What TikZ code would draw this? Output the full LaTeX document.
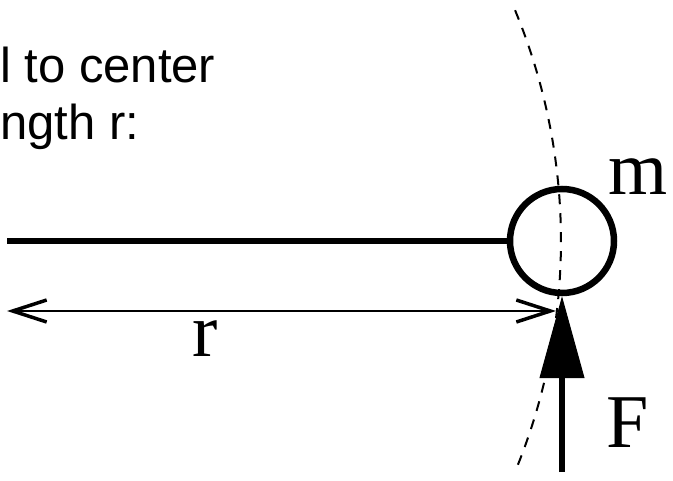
\documentclass[tikz,border=0pt]{standalone}
\usepackage{fontspec}
\setmainfont{Liberation Serif}
\newfontfamily\slidefont{Liberation Sans}
\usepackage{tikz}
\usetikzlibrary{arrows.meta, positioning, calc}

\begin{document}
\begin{tikzpicture}[
    x=1pt, y=-1pt,
    mass/.style={circle, draw, line width=6.5pt, minimum size=104pt, inner sep=0pt},
    rod/.style={line width=6.5pt},
    barb/.tip={Straight Barb[length=34pt, width=22pt, line width=3.5pt]},
    dimline/.style={barb-barb, line width=2pt},
    force/.style={-{Triangle[length=82pt, width=45pt, line width=1pt]}, line width=6pt},
    orbit/.style={line width=2pt, dash pattern=on 10pt off 9pt},
    sym/.style={font=\fontsize{76}{80}\selectfont, inner sep=0pt},
    slide/.style={font=\slidefont\fontsize{49}{57}\selectfont, inner sep=0pt}
]

\useasboundingbox (0,0) rectangle (673,481);

% text of the slide
\node[slide, anchor=base west] (line1) at (0,83) {l to center};
\node[slide, anchor=base west] (line2) at (0,140) {ngth r:};

% path of the mass
\coordinate (pivot) at (-42,241);
\draw[orbit] ($(pivot)+(-22.5:603)$) arc[start angle=-22.5, end angle=22.5, radius=603];

\node[mass] (mass) at (562,241) {};
\node[sym, anchor=base west] (mlabel) at (608,195) {m};

% rod
\coordinate (hub) at (7,241);
\draw[rod] (hub) -- (mass.west);

% length r
\coordinate (rleft) at (7,311);
\coordinate (rright) at (556,311);
\draw[dimline] (rleft) -- (rright);
\node[sym, anchor=base] (rlabel) at (205,357) {r};

% force
\coordinate (fbase) at (562,472);
\draw[force] (fbase) -- (mass.south);
\node[sym, anchor=base west] (flabel) at (606,448) {F};

\end{tikzpicture}
\end{document}
